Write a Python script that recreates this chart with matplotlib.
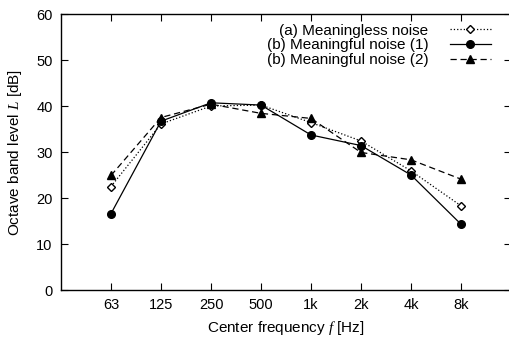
import numpy as np
import matplotlib
matplotlib.use("Agg")
import matplotlib.pyplot as plt

plt.rcParams['font.family'] = ['Liberation Sans', 'DejaVu Sans']
plt.rcParams['mathtext.fontset'] = 'custom'
plt.rcParams['mathtext.it'] = 'Liberation Serif:italic'

freqs = ['63', '125', '250', '500', '1k', '2k', '4k', '8k']
meaningless = [22.5, 36.1, 40.0, 40.2, 36.4, 32.4, 25.9, 18.3]
meaningful1 = [16.6, 36.7, 40.7, 40.2, 33.7, 31.4, 25.0, 14.3]
meaningful2 = [24.9, 37.5, 40.4, 38.4, 37.3, 29.9, 28.3, 24.1]

x = np.arange(1, len(freqs) + 1)

fig = plt.figure(figsize=(5.09, 3.43), dpi=100)
ax = fig.add_axes([61 / 509, 1 - 290 / 343, 450 / 509, 276 / 343])

ax.plot(x, meaningless, color='black', linestyle=':', linewidth=0.9,
        marker='D', markersize=4.5, markerfacecolor='white', markeredgewidth=1,
        label='(a) Meaningless noise')
ax.plot(x, meaningful1, color='black', linestyle='-', linewidth=0.9,
        marker='o', markersize=5.5, label='(b) Meaningful noise (1)')
ax.plot(x, meaningful2, color='black', linestyle='--', linewidth=0.9,
        dashes=(5, 3), marker='^', markersize=5.5,
        label='(b) Meaningful noise (2)')

ax.set_xlim(0, 9)
ax.set_ylim(0, 60)
ax.set_xticks(x)
ax.set_xticklabels(freqs)
ax.set_yticks(range(0, 61, 10))
ax.tick_params(direction='in', top=True, right=True, length=5, labelsize=10.5,
               pad=6)
for s in ax.spines.values():
    s.set_linewidth(1.0)

ax.set_xlabel('Center frequency $f$ [Hz]', fontsize=11, labelpad=5)
ax.set_ylabel('Octave band level $L$ [dB]', fontsize=11, labelpad=9)

ax.legend(loc='upper right', frameon=False, markerfirst=False, fontsize=11,
          handlelength=2.7, handletextpad=1.4, labelspacing=0.05,
          borderaxespad=0.0, borderpad=0.3,
          bbox_to_anchor=(0.966, 0.982))

fig.savefig('out.png', dpi=100)
